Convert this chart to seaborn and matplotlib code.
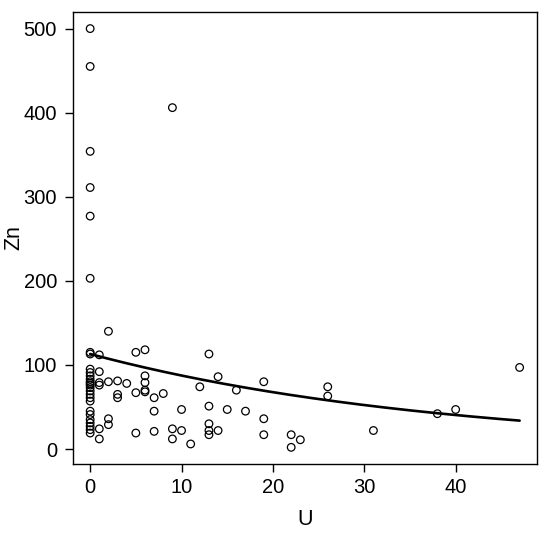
import numpy as np
import pandas as pd
import seaborn as sns
import matplotlib
matplotlib.use("Agg")
import matplotlib.pyplot as plt

# DATA
u_values = (
    [0] * 27 + [1] * 6 + [2] * 4 + [3] * 3 + [4] + [5] * 3 + [6] * 5 + [7] * 3
    + [8] + [9] * 3 + [10] * 2 + [11] + [12] + [13] * 5 + [14] * 2 + [15]
    + [16] + [17] + [19] * 3 + [22] * 2 + [23] + [26] * 2 + [31] + [38] + [40] + [47]
)
zn_values = [
    # U = 0
    500, 455, 354, 311, 277, 203, 115, 113, 95, 91, 87, 83, 80, 78, 76, 73, 69,
    65, 61, 57, 45, 41, 35, 31, 27, 23, 19,
    # U = 1 .. 8
    112, 92, 79, 76, 24, 12,
    140, 80, 36, 29,
    81, 65, 61,
    78,
    115, 67, 19,
    118, 87, 79, 70, 68,
    61, 45, 21,
    66,
    # U = 9 .. 17
    406, 24, 12,
    47, 22,
    6,
    74,
    113, 51, 30, 22, 17,
    86, 22,
    47,
    70,
    45,
    # U = 19 .. 47
    80, 36, 17,
    17, 2,
    11,
    74, 63,
    22,
    42,
    47,
    97,
]

# exponential fit shown in the picture: Zn = fit_a * exp(-fit_b * U)
fit_a = 113.0
fit_b = 0.0257

df = pd.DataFrame({"U": u_values, "Zn": zn_values})

sns.set_theme(style="ticks")
plt.rcParams["font.family"] = ["Liberation Sans", "DejaVu Sans"]

fig = plt.figure(figsize=(5.5, 5.39), dpi=100)
ax = fig.add_axes([0.1327, 0.139, 0.8433, 0.839])

sns.scatterplot(data=df, x="U", y="Zn", ax=ax, marker="o", s=30,
                facecolors="none", edgecolor="black", linewidth=0.9)

curve_x = np.linspace(df["U"].min(), df["U"].max(), 200)
curve = pd.DataFrame({"U": curve_x, "Zn": fit_a * np.exp(-fit_b * curve_x)})
sns.lineplot(data=curve, x="U", y="Zn", ax=ax, color="black", linewidth=1.9)

# R style axis ranges (4% padding)
xr = df["U"].max() - df["U"].min()
yr = df["Zn"].max() - df["Zn"].min()
ax.set_xlim(df["U"].min() - 0.04 * xr, df["U"].max() + 0.04 * xr)
ax.set_ylim(df["Zn"].min() - 0.04 * yr, df["Zn"].max() + 0.04 * yr)

ax.set_xticks([0, 10, 20, 30, 40])
ax.set_yticks([0, 100, 200, 300, 400, 500])
ax.tick_params(axis="both", labelsize=14.5, length=5.5, width=1, color="black",
               labelcolor="black")
ax.tick_params(axis="x", pad=4.7)
ax.tick_params(axis="y", pad=6)

for sp in ax.spines.values():
    sp.set_visible(True)
    sp.set_color("black")
    sp.set_linewidth(1.0)

ax.set_xlabel("U", fontsize=15.5, color="black")
ax.set_ylabel("Zn", fontsize=15.5, color="black")
ax.xaxis.set_label_coords(0.5, -0.0996)
ax.yaxis.set_label_coords(-0.104, 0.5)

fig.savefig("out.png", dpi=100)
